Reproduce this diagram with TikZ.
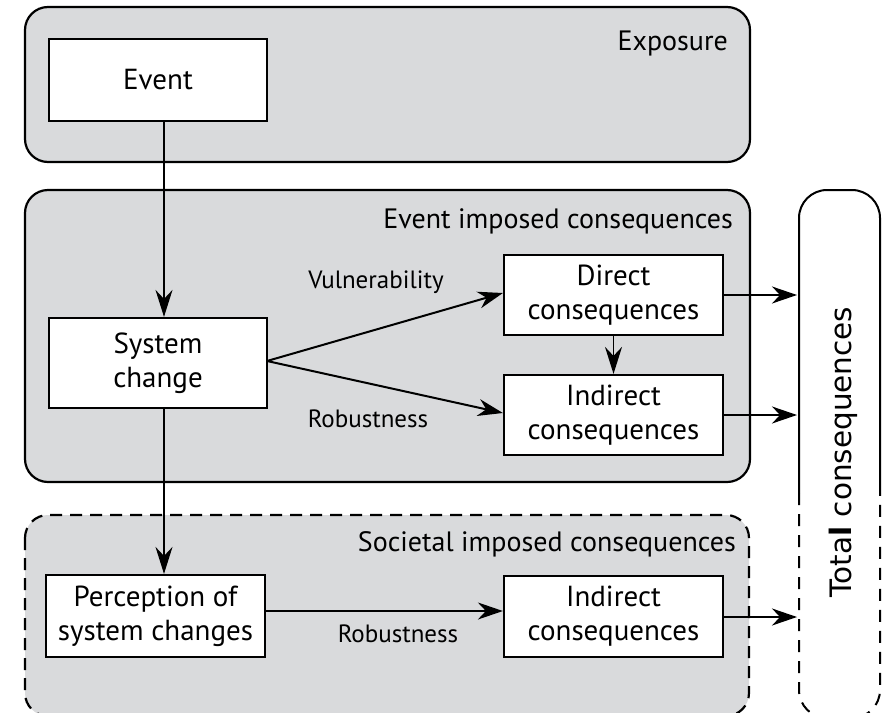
\documentclass[tikz,border=0pt]{standalone}
\usepackage{fontspec}
\setmainfont{PT Sans}
\newfontfamily\totalfont{DejaVu Sans}
\usetikzlibrary{arrows.meta}
\definecolor{panel}{HTML}{D9DADC}
\begin{document}
\begin{tikzpicture}[x=1pt,y=-1pt,
  panelbox/.style={draw=black,line width=2.2pt,fill=panel,rounded corners=23pt},
  inbox/.style={draw=black,line width=2.2pt,fill=white,align=center,font=\fontsize{29}{34}\selectfont,inner sep=0pt},
  lbl/.style={font=\fontsize{28}{32}\selectfont,inner sep=0pt},
  alab/.style={font=\fontsize{25}{30}\selectfont,inner sep=0pt},
  arr/.style={-{Stealth[length=25pt,width=17pt,inset=8pt]},line width=2pt},
  thinarr/.style={-{Stealth[length=27pt,width=17pt,inset=9pt]},line width=1.5pt}]
\useasboundingbox (0,0) rectangle (888,712);
\clip (0,0) rectangle (888,712);
% panels
\path[panelbox] (25,7) rectangle (750,162);
\path[panelbox] (25,190) rectangle (750,482);
\path[panelbox,dash pattern=on 12pt off 8pt] (25,515) rectangle (749,716);
\node[lbl,anchor=base east] (lexp) at (728,50) {Exposure};
\node[lbl,anchor=base east] (levt) at (733,228) {Event imposed consequences};
\node[lbl,anchor=base east] (lsoc) at (736,551) {Societal imposed consequences};
% total consequences
\draw[line width=2pt,rounded corners=28pt] (799,493) -- (799,190) -- (880,190) -- (880,493);
\draw[line width=2pt,dash pattern=on 12pt off 9pt,rounded corners=28pt] (799,493) -- (799,718) -- (880,718) -- (880,493);
\node[font=\totalfont\fontsize{29.5}{32}\selectfont,rotate=90,inner sep=0pt,anchor=base] (total) at (851,452) {Tota\textbf{l} consequences};
% inner boxes
\node[inbox,minimum width=218pt,minimum height=82pt] (event) at (158,80) {Event};
\node[inbox,minimum width=218pt,minimum height=90pt] (sys) at (158,363) {System\\change};
\node[inbox,minimum width=219pt,minimum height=80pt] (direct) at (613.5,295) {Direct\\consequences};
\node[inbox,minimum width=219pt,minimum height=80pt] (indirect) at (613.5,415) {Indirect\\consequences};
\node[inbox,minimum width=219pt,minimum height=82pt] (percep) at (155.5,616) {Perception of\\system changes};
\node[inbox,minimum width=219pt,minimum height=81pt] (indirect2) at (613.5,616.5) {Indirect\\consequences};
% labels
\node[alab,anchor=base] (vul) at (376,288) {Vulnerability};
\node[alab,anchor=base] (rob1) at (368,427) {Robustness};
\node[alab,anchor=base] (rob2) at (398,642) {Robustness};
% connectors
\coordinate (sysR) at (267,361);
\draw[thinarr] (event.south -| 164,0) -- (sys.north -| 164,0);
\draw[thinarr] (sys.south -| 164,0) -- (percep.north -| 164,0);
\draw[arr] (sysR) -- (direct.west |- 0,293);
\draw[arr] (sysR) -- (indirect.west |- 0,413);
\draw[thinarr] (direct.south) -- (indirect.north);
\draw[arr] (percep.east |- 0,611) -- (indirect2.west |- 0,611);
\coordinate (t1) at (797,295);
\coordinate (t2) at (797,415);
\coordinate (t3) at (797,617);
\draw[arr] (direct.east |- t1) -- (t1);
\draw[arr] (indirect.east |- t2) -- (t2);
\draw[arr] (indirect2.east |- t3) -- (t3);
\end{tikzpicture}
\end{document}
